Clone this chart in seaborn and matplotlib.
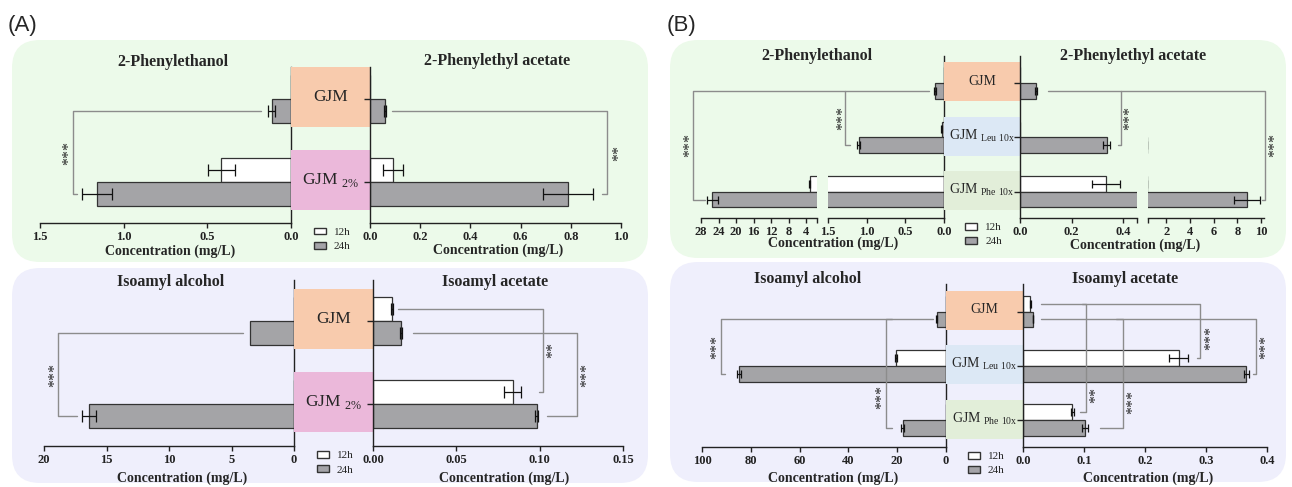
import numpy as np
import pandas as pd
import seaborn as sns
import matplotlib
matplotlib.use('Agg')
import matplotlib.pyplot as plt
from matplotlib.patches import FancyBboxPatch, Patch
from matplotlib.lines import Line2D

W, H = 1292, 487

# ---- data (mg/L) ----
groups_a = ['GJM', 'GJM 2%']
groups_b = ['GJM', 'GJM Leu 10x', 'GJM Phe 10x']

# (A) 2-Phenylethanol
pe_a_12 = [0.0, 0.417]
pe_a_12_err = [0.0, 0.08]
pe_a_24 = [0.115, 1.16]
pe_a_24_err = [0.02, 0.09]
# (A) 2-Phenylethyl acetate
pea_a_12 = [0.0, 0.093]
pea_a_12_err = [0.0, 0.04]
pea_a_24 = [0.06, 0.79]
pea_a_24_err = [0.005, 0.10]
# (A) Isoamyl alcohol
ia_a_12 = [0.0, 0.0]
ia_a_12_err = [0.0, 0.0]
ia_a_24 = [3.5, 16.4]
ia_a_24_err = [0.0, 0.55]
# (A) Isoamyl acetate
iac_a_12 = [0.0114, 0.0838]
iac_a_12_err = [0.0004, 0.005]
iac_a_24 = [0.0167, 0.0982]
iac_a_24_err = [0.0004, 0.001]

# (B) 2-Phenylethanol
pe_b_12 = [0.0, 0.03, 3.3]
pe_b_12_err = [0.0, 0.01, 0.1]
pe_b_24 = [0.113, 1.10, 25.4]
pe_b_24_err = [0.01, 0.02, 1.3]
# (B) 2-Phenylethyl acetate
pea_b_12 = [0.0, 0.0, 0.332]
pea_b_12_err = [0.0, 0.0, 0.055]
pea_b_24 = [0.062, 0.335, 8.85]
pea_b_24_err = [0.005, 0.012, 1.1]
# (B) Isoamyl alcohol
ia_b_12 = [0.0, 20.4, 0.0]
ia_b_12_err = [0.0, 0.3, 0.0]
ia_b_24 = [3.7, 84.8, 17.7]
ia_b_24_err = [0.2, 0.8, 0.6]
# (B) Isoamyl acetate
iac_b_12 = [0.012, 0.255, 0.081]
iac_b_12_err = [0.0005, 0.016, 0.003]
iac_b_24 = [0.0165, 0.366, 0.1015]
iac_b_24_err = [0.0005, 0.004, 0.005]

labels_a = ['GJM', r'GJM $_{\mathrm{2\%}}$']
labels_b = ['GJM', r'GJM $_{\mathrm{Leu\ 10x}}$', r'GJM $_{\mathrm{Phe\ 10x}}$']
band_a = ['#f8cbad', '#ebb8da']
band_b = ['#f8cbad', '#dce8f5', '#e2eed9']

PAL = {'12h': 'white', '24h': '#a4a3a8'}

sns.set_style('ticks')
plt.rcParams['font.family'] = ['Liberation Serif', 'DejaVu Serif']
plt.rcParams['mathtext.fontset'] = 'custom'
plt.rcParams['mathtext.rm'] = 'Liberation Serif'
plt.rcParams['axes.facecolor'] = 'none'
plt.rcParams['axes.edgecolor'] = '#222222'
plt.rcParams['axes.linewidth'] = 1.0
plt.rcParams['xtick.color'] = '#222222'
plt.rcParams['ytick.color'] = '#222222'

fig = plt.figure(figsize=(W / 100, H / 100), dpi=100)
fig.patch.set_facecolor('white')


def box(x0, y0, x1, y1):
    return fig.add_axes([x0 / W, 1 - y1 / H, (x1 - x0) / W, (y1 - y0) / H])


def px(x, y):
    return x / W, 1 - y / H


def fp(ax, x, y):
    return fig.transFigure.inverted().transform(ax.transData.transform((x, y)))


def draw_bars(ax, groups, v12, e12, v24, e24, xlim, ylim, side, ticks, labels, capsize=3.5):
    n = len(groups)
    vals = list(v12) + list(v24)
    errs = list(e12) + list(e24)
    df = pd.DataFrame({'group': groups * 2,
                       'time': ['12h'] * n + ['24h'] * n,
                       'value': vals})
    sns.barplot(data=df, x='value', y='group', hue='time', orient='h', palette=PAL,
                edgecolor='#333333', linewidth=0.9, width=0.58, errorbar=None,
                legend=False, ax=ax)
    for bar, val, err in zip(ax.patches, vals, errs):
        if err > 0:
            ax.errorbar(val, bar.get_y() + bar.get_height() / 2, xerr=err, fmt='none',
                        ecolor='#111111', elinewidth=0.9, capsize=capsize, capthick=0.9)
    ax.set_xlim(xlim)
    ax.set_ylim(ylim)
    ax.set_xlabel('')
    ax.set_ylabel('')
    ax.set_xticks(ticks)
    ax.set_xticklabels(labels, fontweight='bold', fontsize=9)
    ax.tick_params(axis='x', length=3.5, pad=2, width=1)
    for s in ['top', 'left', 'right']:
        ax.spines[s].set_visible(False)
    if side == 'left':
        ax.spines['right'].set_visible(True)
        ax.yaxis.tick_right()
    elif side == 'right':
        ax.spines['left'].set_visible(True)
        ax.yaxis.tick_left()
    if side in ('left', 'right'):
        ax.set_yticks(range(n))
        ax.set_yticklabels([])
        ax.tick_params(axis='y', length=4, width=1)
    else:
        ax.set_yticks([])


def middle(ax, labels, colors, ylim, fs):
    ax.set_xlim(0, 1)
    ax.set_ylim(ylim)
    ax.axis('off')
    for i, (lab, c) in enumerate(zip(labels, colors)):
        ax.axhspan(i - 0.38, i + 0.34, color=c, lw=0)
        ax.text(0.5, i - 0.03, lab, ha='center', va='center', fontsize=fs)
    handles = [Patch(facecolor='white', edgecolor='#333333', label='12h'),
               Patch(facecolor=PAL['24h'], edgecolor='#333333', label='24h')]
    ax.legend(handles=handles, loc='upper center', bbox_to_anchor=(0.52, -0.03),
              frameon=False, fontsize=8, handlelength=1.1, handleheight=0.55,
              labelspacing=0.45, borderpad=0, borderaxespad=0, handletextpad=0.7)


def bracket(a0, x0, av, xv, a1, x1, y1, y2, stars, xs, ys=None):
    pts = np.array([fp(a0, x0, y1), fp(av, xv, y1), fp(av, xv, y2), fp(a1, x1, y2)])
    fig.add_artist(Line2D(pts[:, 0], pts[:, 1], color='#8c8c8c', lw=1,
                          transform=fig.transFigure, zorder=5))
    if ys is None:
        ys = (y1 + y2) / 2
    sx, sy = fp(av, xs, ys)
    # asterisks sit high in their em box; nudge right so the ink lands on the spot
    fig.text(sx + 3.5 / W, sy, stars, rotation=90, ha='center', va='center', fontsize=11.5,
             color='#222222', zorder=6)


# ---- background panels ----
for (x0, y0, x1, y1, c) in [(12, 40, 648, 262, '#ecfaea'), (12, 268, 648, 483, '#efeffc'),
                            (670, 40, 1286, 258, '#ecfaea'), (670, 262, 1286, 482, '#efeffc')]:
    fig.add_artist(FancyBboxPatch((x0 / 100, (H - y1) / 100), (x1 - x0) / 100, (y1 - y0) / 100,
                                  boxstyle='round,pad=0,rounding_size=0.28',
                                  transform=fig.dpi_scale_trans, facecolor=c,
                                  edgecolor='none', zorder=-2))

# ---- (A) top ----
ylim_at = (1.494, -0.386)
at_l = box(40, 67, 291, 223)
at_m = box(291, 67, 370, 223)
at_r = box(370, 67, 621, 223)
draw_bars(at_l, groups_a, pe_a_12, pe_a_12_err, pe_a_24, pe_a_24_err, (1.5, 0), ylim_at,
          'left', [1.5, 1.0, 0.5, 0.0], ['1.5', '1.0', '0.5', '0.0'], capsize=4)
draw_bars(at_r, groups_a, pea_a_12, pea_a_12_err, pea_a_24, pea_a_24_err, (0, 1.0), ylim_at,
          'right', [0, 0.2, 0.4, 0.6, 0.8, 1.0], ['0.0', '0.2', '0.4', '0.6', '0.8', '1.0'], capsize=4)
middle(at_m, labels_a, band_a, ylim_at, 12.5)

# ---- (A) bottom ----
ylim_ab = (1.506, -0.494)
ab_l = box(44, 280, 294, 446)
ab_m = box(294, 280, 373, 446)
ab_r = box(373, 280, 623, 446)
draw_bars(ab_l, groups_a, ia_a_12, ia_a_12_err, ia_a_24, ia_a_24_err, (20, 0), ylim_ab,
          'left', [20, 15, 10, 5, 0], ['20', '15', '10', '5', '0'], capsize=4)
draw_bars(ab_r, groups_a, iac_a_12, iac_a_12_err, iac_a_24, iac_a_24_err, (0, 0.15), ylim_ab,
          'right', [0, 0.05, 0.10, 0.15], ['0.00', '0.05', '0.10', '0.15'], capsize=4)
middle(ab_m, labels_a, band_a, ylim_ab, 12.5)

# ---- (B) top, broken axes ----
ylim_bt = (2.484, -0.497)
bt_lo = box(701, 56, 817, 218)
bt_li = box(828, 56, 944, 218)
bt_m = box(944, 56, 1020, 218)
bt_ri = box(1020, 56, 1137, 218)
bt_ro = box(1148, 56, 1264, 218)
draw_bars(bt_lo, groups_b, pe_b_12, pe_b_12_err, pe_b_24, pe_b_24_err, (28, 1.6), ylim_bt,
          'none', [28, 24, 20, 16, 12, 8, 4, 1.6], ['28', '24', '20', '16', '12', '8', '4', ''], capsize=3)
draw_bars(bt_li, groups_b, pe_b_12, pe_b_12_err, pe_b_24, pe_b_24_err, (1.5, 0), ylim_bt,
          'left', [1.5, 1.0, 0.5, 0.0], ['1.5', '1.0', '0.5', '0.0'], capsize=3)
draw_bars(bt_ri, groups_b, pea_b_12, pea_b_12_err, pea_b_24, pea_b_24_err, (0, 0.453), ylim_bt,
          'right', [0, 0.2, 0.4, 0.453], ['0.0', '0.2', '0.4', ''], capsize=3)
draw_bars(bt_ro, groups_b, pea_b_12, pea_b_12_err, pea_b_24, pea_b_24_err, (0.45, 10.25), ylim_bt,
          'none', [0.45, 2, 4, 6, 8, 10], ['', '2', '4', '6', '8', '10'], capsize=3)
middle(bt_m, labels_b, band_b, ylim_bt, 10)

# ---- (B) bottom ----
ylim_bb = (2.493, -0.506)
bb_l = box(702, 284, 946, 447)
bb_m = box(946, 284, 1023, 447)
bb_r = box(1023, 284, 1267, 447)
draw_bars(bb_l, groups_b, ia_b_12, ia_b_12_err, ia_b_24, ia_b_24_err, (100, 0), ylim_bb,
          'left', [100, 80, 60, 40, 20, 0], ['100', '80', '60', '40', '20', '0'], capsize=3)
draw_bars(bb_r, groups_b, iac_b_12, iac_b_12_err, iac_b_24, iac_b_24_err, (0, 0.4), ylim_bb,
          'right', [0, 0.1, 0.2, 0.3, 0.4], ['0.0', '0.1', '0.2', '0.3', '0.4'], capsize=3)
middle(bb_m, labels_b, band_b, ylim_bb, 10)

# ---- significance brackets ----
bracket(at_l, 0.18, at_l, 1.30, at_l, 1.28, 0.145, 1.145, '***', 1.345)
bracket(at_r, 0.088, at_r, 0.943, at_r, 0.923, 0.145, 1.145, '**', 0.978)
bracket(ab_l, 4.1, ab_l, 18.9, ab_l, 17.4, 0.145, 1.145, '***', 19.35)
bracket(ab_r, 0.0147, ab_r, 0.1022, ab_r, 0.0996, -0.145, 0.855, '**', 0.1063)
bracket(ab_r, 0.0239, ab_r, 0.1223, ab_r, 0.1044, 0.145, 1.145, '***', 0.1265)

bracket(bt_li, 0.19, bt_li, 1.284, bt_li, 1.219, 0.145, 1.145, '***', 1.35)
bracket(bt_li, 1.284, bt_lo, 29.75, bt_lo, 27.1, 0.145, 2.145, '***', 31.25)
bracket(bt_ri, 0.109, bt_ri, 0.392, bt_ri, 0.379, 0.145, 1.145, '***', 0.415)
bracket(bt_ri, 0.392, bt_ro, 10.33, bt_ro, 10.05, 0.145, 2.145, '***', 10.9)

bracket(bb_l, 5.2, bb_l, 92.3, bb_l, 90.7, 0.145, 1.145, '***', 95.1)
bracket(bb_l, 22.3, bb_l, 24.4, bb_l, 22.3, 0.145, 2.145, '***', 27.7, ys=1.57)
bracket(bb_r, 0.030, bb_r, 0.290, bb_r, 0.285, -0.145, 0.855, '***', 0.303, ys=0.49)
bracket(bb_r, 0.030, bb_r, 0.382, bb_r, 0.377, 0.145, 1.145, '***', 0.393)
bracket(bb_r, 0.096, bb_r, 0.104, bb_r, 0.093, -0.145, 1.855, '**', 0.114, ys=1.54)
bracket(bb_r, 0.153, bb_r, 0.164, bb_r, 0.126, 0.145, 2.145, '***', 0.175, ys=1.66)

# ---- titles, axis labels, panel letters ----
titles = [(173, 62, '2-Phenylethanol'), (497, 61, '2-Phenylethyl acetate'),
          (171, 282, 'Isoamyl alcohol'), (495, 282, 'Isoamyl acetate'),
          (817, 56, '2-Phenylethanol'), (1133, 56, '2-Phenylethyl acetate'),
          (808, 279, 'Isoamyl alcohol'), (1125, 279, 'Isoamyl acetate')]
for x, y, t in titles:
    fig.text(*px(x, y), t, ha='center', va='center', fontsize=11.5, fontweight='bold')

for x, y in [(170, 251), (498, 250), (182, 478), (504, 478),
             (833, 243), (1135, 245), (833, 478), (1148, 478)]:
    fig.text(*px(x, y), 'Concentration (mg/L)', ha='center', va='center',
             fontsize=10, fontweight='bold')

fig.text(*px(8, 26), '(A)', ha='left', va='center', fontsize=16,
         family=['Liberation Sans', 'DejaVu Sans'])
fig.text(*px(667, 26), '(B)', ha='left', va='center', fontsize=16,
         family=['Liberation Sans', 'DejaVu Sans'])

fig.savefig('out.png', dpi=100)
